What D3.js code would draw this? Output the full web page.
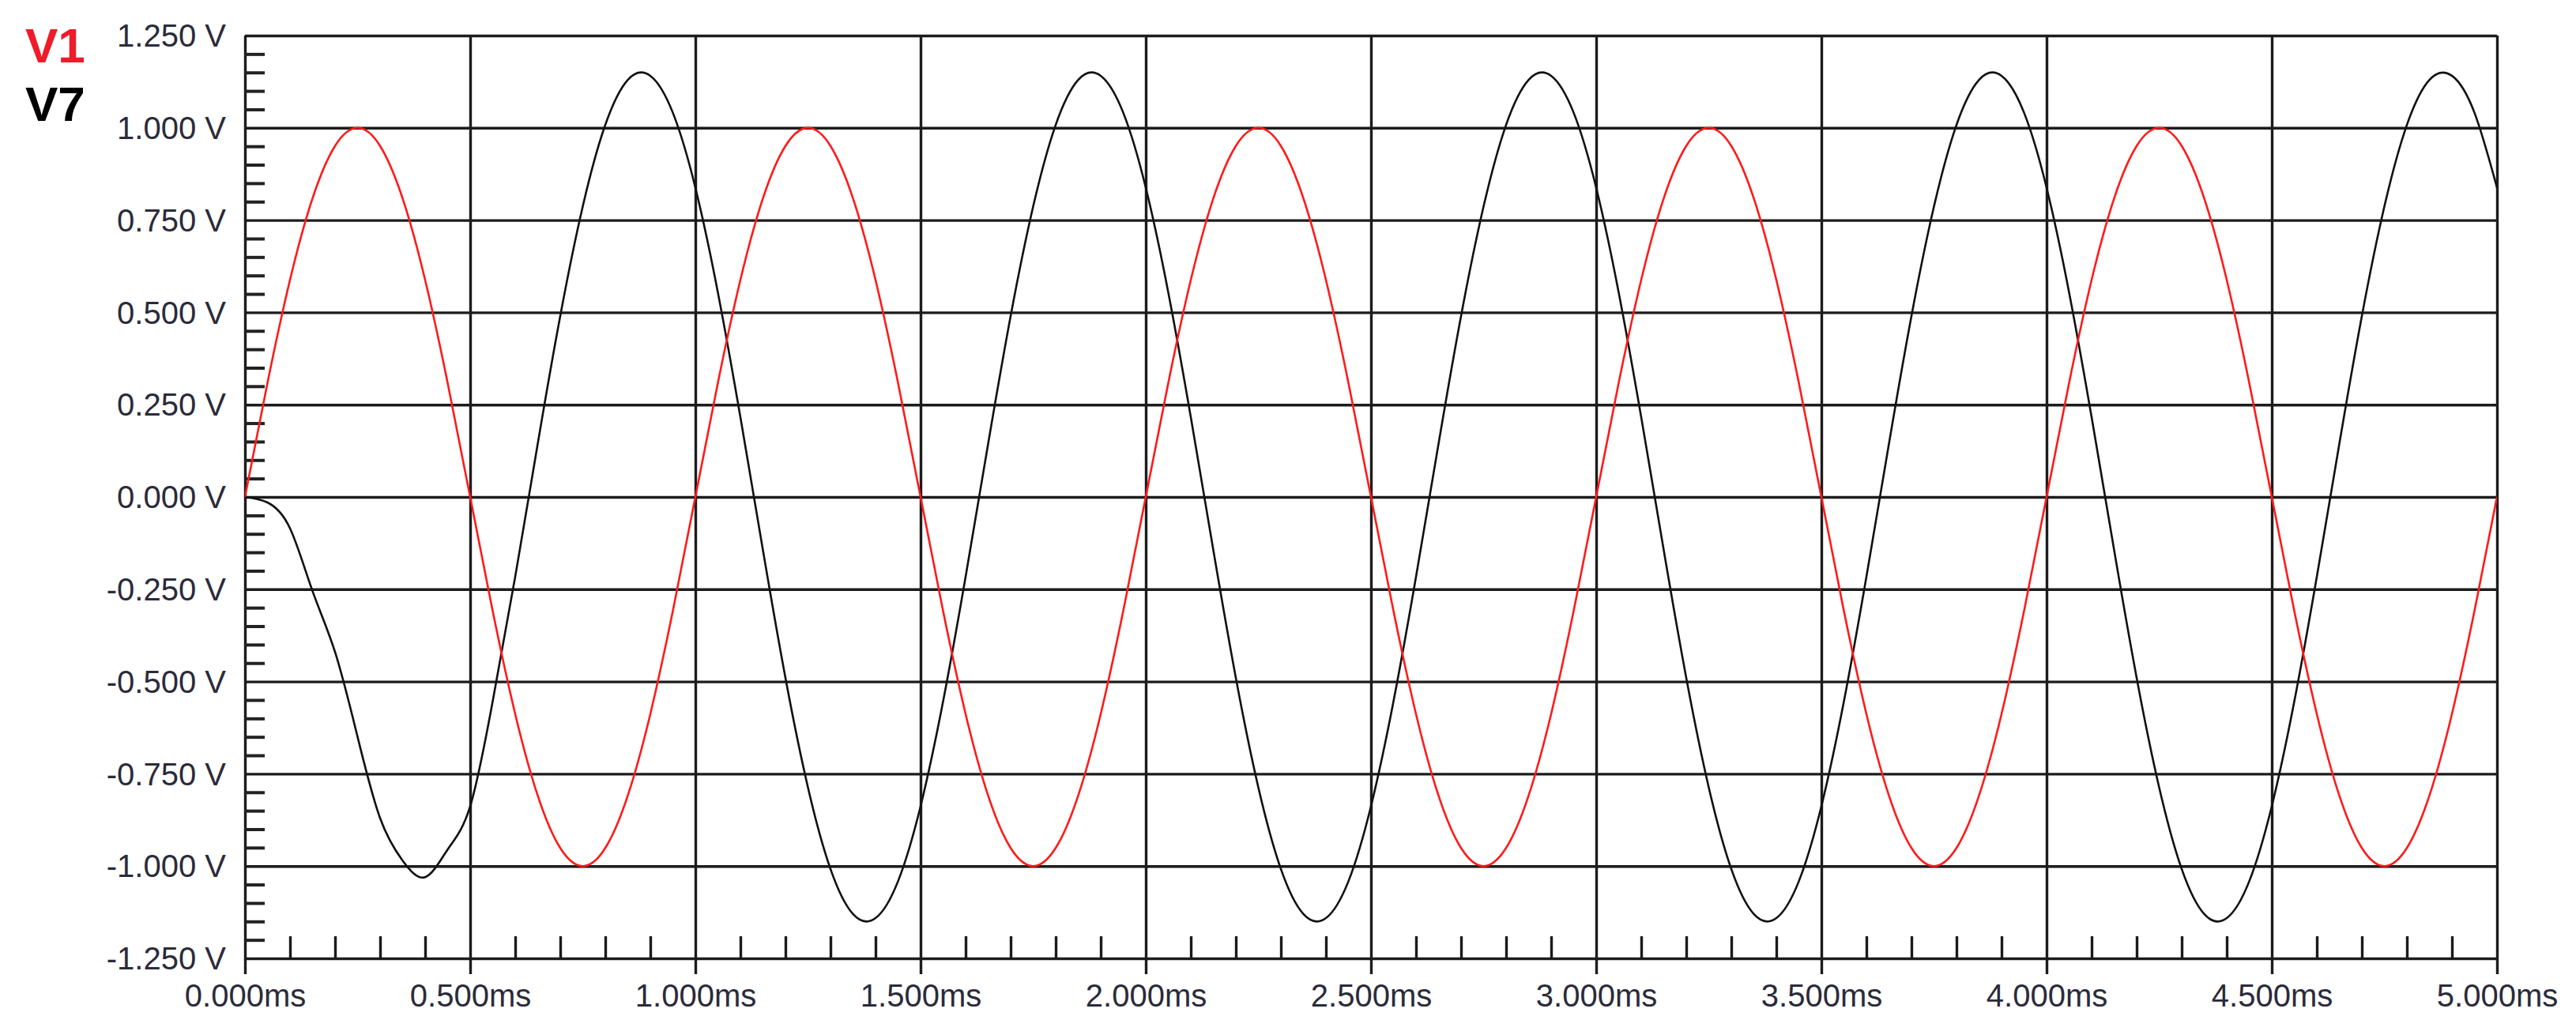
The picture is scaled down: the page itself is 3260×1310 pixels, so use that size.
<!DOCTYPE html>
<html>
<head>
<meta charset="utf-8">
<script src="https://cdn.jsdelivr.net/npm/d3@7"></script>
<style>
  html, body { margin: 0; padding: 0; background: #ffffff; }
  svg { display: block; }
</style>
</head>
<body>
<div id="chart"></div>
<script>
// ---------------- DATA ----------------
const timeStepMs = 0.05;           // sample spacing of both traces (ms)
const seriesNames = ["V1", "V7"];

// V1 (red) sampled every 0.05 ms from 0 to 5 ms
const v1Values = [
  0, 0.309, 0.588, 0.809, 0.951, 1.000, 0.951, 0.809, 0.588, 0.309, 0, -0.309, -0.588, -0.809, -0.951, -1.000, -0.951, -0.809, -0.588, -0.309,
  0, 0.309, 0.588, 0.809, 0.951, 1.000, 0.951, 0.809, 0.588, 0.309, 0, -0.309, -0.588, -0.809, -0.951, -1.000, -0.951, -0.809, -0.588, -0.309,
  0, 0.309, 0.588, 0.809, 0.951, 1.000, 0.951, 0.809, 0.588, 0.309, 0, -0.309, -0.588, -0.809, -0.951, -1.000, -0.951, -0.809, -0.588, -0.309,
  0, 0.309, 0.588, 0.809, 0.951, 1.000, 0.951, 0.809, 0.588, 0.309, 0, -0.309, -0.588, -0.809, -0.951, -1.000, -0.951, -0.809, -0.588, -0.309,
  0, 0.309, 0.588, 0.809, 0.951, 1.000, 0.951, 0.809, 0.588, 0.309, 0, -0.309, -0.588, -0.809, -0.951, -1.000, -0.951, -0.809, -0.588, -0.309,
  0
];

// V7 (black) sampled every 0.05 ms from 0 to 5 ms
const v7Values = [
  0, -0.015, -0.085, -0.255, -0.42, -0.65, -0.87, -0.985, -1.03, -0.955,
  -0.838, -0.554, -0.216, 0.144, 0.490, 0.787, 1.008, 1.130, 1.141, 1.041, 0.838, 0.554, 0.216, -0.144, -0.490, -0.787, -1.008, -1.130, -1.141, -1.041,
  -0.838, -0.554, -0.216, 0.144, 0.490, 0.787, 1.008, 1.130, 1.141, 1.041, 0.838, 0.554, 0.216, -0.144, -0.490, -0.787, -1.008, -1.130, -1.141, -1.041,
  -0.838, -0.554, -0.216, 0.144, 0.490, 0.787, 1.008, 1.130, 1.141, 1.041, 0.838, 0.554, 0.216, -0.144, -0.490, -0.787, -1.008, -1.130, -1.141, -1.041,
  -0.838, -0.554, -0.216, 0.144, 0.490, 0.787, 1.008, 1.130, 1.141, 1.041, 0.838, 0.554, 0.216, -0.144, -0.490, -0.787, -1.008, -1.130, -1.141, -1.041,
  -0.838, -0.554, -0.216, 0.144, 0.490, 0.787, 1.008, 1.130, 1.141, 1.041, 0.838
];

const yTicks = [-1.25, -1.0, -0.75, -0.5, -0.25, 0, 0.25, 0.5, 0.75, 1.0, 1.25];
const yTickLabels = ["-1.250 V", "-1.000 V", "-0.750 V", "-0.500 V", "-0.250 V", "0.000 V",
                     "0.250 V", "0.500 V", "0.750 V", "1.000 V", "1.250 V"];
const xTicks = [0, 0.5, 1.0, 1.5, 2.0, 2.5, 3.0, 3.5, 4.0, 4.5, 5.0];
const xTickLabels = ["0.000ms", "0.500ms", "1.000ms", "1.500ms", "2.000ms", "2.500ms",
                     "3.000ms", "3.500ms", "4.000ms", "4.500ms", "5.000ms"];
const yMinorStep = 0.05;
const xMinorStep = 0.1;

// ---------------- LAYOUT ----------------
const W = 3260, H = 1310;
const pL = 310, pR = 3160, pT = 45, pB = 1213;
const FONT = "'Liberation Sans', Arial, sans-serif";

const svg = d3.select("#chart").append("svg")
  .attr("width", W).attr("height", H)
  .style("font-family", FONT);

const x = d3.scaleLinear().domain([0, 5]).range([pL, pR]);
const y = d3.scaleLinear().domain([-1.25, 1.25]).range([pB, pT]);

const gridColor = "#1c1c1c";

// minor tick values
const yMinor = d3.range(Math.round(2.5 / yMinorStep) + 1)
  .map(i => +(-1.25 + i * yMinorStep).toFixed(3))
  .filter(v => Math.abs(Math.round(v / 0.25) * 0.25 - v) > 1e-6);
const xMinor = d3.range(Math.round(5 / xMinorStep) + 1)
  .map(i => +(i * xMinorStep).toFixed(3))
  .filter(v => Math.abs(Math.round(v / 0.5) * 0.5 - v) > 1e-6);

// horizontal grid lines
const hGrid = svg.append("g")
  .attr("transform", `translate(${pL},0)`)
  .call(d3.axisLeft(y).tickValues(yTicks).tickSize(-(pR - pL)).tickFormat(""));
hGrid.select(".domain").remove();
hGrid.selectAll("line").attr("stroke", gridColor).attr("stroke-width", 3.4);

// vertical grid lines (extend 20px below bottom)
const vGrid = svg.append("g")
  .attr("transform", `translate(0,${pB + 20})`)
  .call(d3.axisBottom(x).tickValues(xTicks).tickSize(-(pB + 20 - pT)).tickFormat(""));
vGrid.select(".domain").remove();
vGrid.selectAll("line").attr("stroke", gridColor).attr("stroke-width", 3.4);

// y minor ticks
const yMin = svg.append("g")
  .attr("transform", `translate(${pL},0)`)
  .call(d3.axisLeft(y).tickValues(yMinor).tickSize(-25).tickFormat(""));
yMin.select(".domain").remove();
yMin.selectAll("line").attr("stroke", "#222").attr("stroke-width", 4);

// x minor ticks
const xMin = svg.append("g")
  .attr("transform", `translate(0,${pB})`)
  .call(d3.axisBottom(x).tickValues(xMinor).tickSize(-28).tickFormat(""));
xMin.select(".domain").remove();
xMin.selectAll("line").attr("stroke", "#1a1a1a").attr("stroke-width", 3.4);

// y labels
const yAx = svg.append("g")
  .attr("transform", `translate(${pL},0)`)
  .call(d3.axisLeft(y).tickValues(yTicks).tickSize(0).tickPadding(24)
    .tickFormat((d, i) => yTickLabels[i]));
yAx.select(".domain").remove();
yAx.selectAll("text").attr("font-size", 40).attr("fill", "#2b2b3a")
  .attr("font-family", FONT).attr("dy", "0.34em");

// x labels
const xAx = svg.append("g")
  .attr("transform", `translate(0,${pB})`)
  .call(d3.axisBottom(x).tickValues(xTicks).tickSize(0).tickPadding(33)
    .tickFormat((d, i) => xTickLabels[i]));
xAx.select(".domain").remove();
xAx.selectAll("text").attr("font-size", 40).attr("fill", "#2b2b3a")
  .attr("font-family", FONT);

// ---------------- TRACES ----------------
svg.append("clipPath").attr("id", "plotclip")
  .append("rect").attr("x", pL).attr("y", pT - 2)
  .attr("width", pR - pL).attr("height", pB - pT + 4);

const line = d3.line()
  .x((d, i) => x(i * timeStepMs))
  .y(d => y(d))
  .curve(d3.curveNatural);

const traces = svg.append("g").attr("clip-path", "url(#plotclip)");
traces.append("path").datum(v7Values)
  .attr("d", line).attr("fill", "none")
  .attr("stroke", "#111").attr("stroke-width", 2.6);
traces.append("path").datum(v1Values)
  .attr("d", line).attr("fill", "none")
  .attr("stroke", "#ff1a1a").attr("stroke-width", 2.6);

// ---------------- LEGEND ----------------
svg.append("text").attr("x", 32).attr("y", 79)
  .attr("font-size", 62).attr("font-weight", "bold").attr("fill", "#ee1c2a")
  .text(seriesNames[0]);
svg.append("text").attr("x", 32).attr("y", 153)
  .attr("font-size", 62).attr("font-weight", "bold").attr("fill", "#000")
  .text(seriesNames[1]);
</script>
</body>
</html>
